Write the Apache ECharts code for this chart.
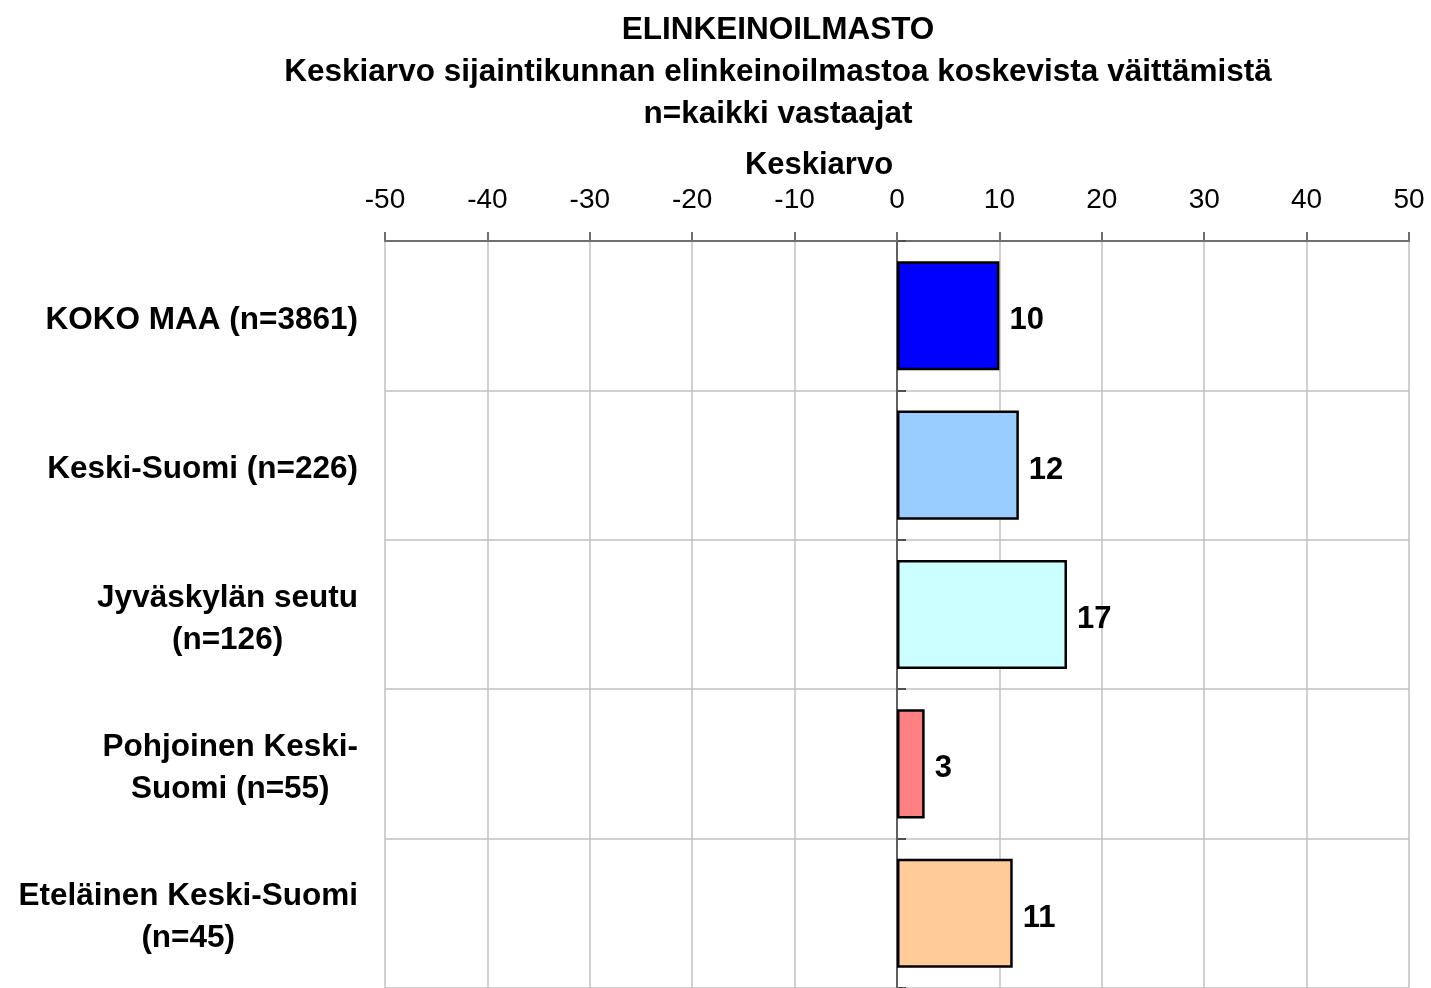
<!DOCTYPE html>
<html>
<head>
<meta charset="utf-8">
<script src="https://cdn.jsdelivr.net/npm/echarts@6/dist/echarts.min.js"></script>
<style>
  html, body { margin: 0; padding: 0; background: #fff; }
  #chart { width: 1431px; height: 988px; }
</style>
</head>
<body>
<div id="chart"></div>
<script>
// data
const categories = [
  'KOKO MAA (n=3861)',
  'Keski-Suomi (n=226)',
  'Jyväskylän seutu\n(n=126)',
  'Pohjoinen Keski-\nSuomi (n=55)',
  'Eteläinen Keski-Suomi\n(n=45)'
];
const meanValues = [10.0, 11.9, 16.6, 2.7, 11.3];
const titleLines = [
  'ELINKEINOILMASTO',
  'Keskiarvo sijaintikunnan elinkeinoilmastoa koskevista väittämistä',
  'n=kaikki vastaajat'
];
const axisName = 'Keskiarvo';

const barColors = ['#0000ff', '#99ccff', '#ccffff', '#ff8080', '#ffcc99'];
const FONT = 'Liberation Sans, Arial, sans-serif';

let chart = echarts.init(document.getElementById('chart'));

let option = {
  animation: false,
  backgroundColor: '#fff',
  textStyle: { fontFamily: FONT },
  graphic: titleLines.map((t, i) => ({
    type: 'text',
    x: 778,
    y: 30 + i * 42,
    style: {
      text: t,
      fill: '#000',
      font: 'bold 31.5px ' + FONT,
      textAlign: 'center',
      textVerticalAlign: 'middle'
    }
  })),
  grid: {
    left: 385,
    right: 22,
    top: 241,
    height: 750
  },
  xAxis: {
    type: 'value',
    position: 'top',
    min: -50,
    max: 50,
    interval: 10,
    name: axisName,
    nameLocation: 'middle',
    nameGap: 60,
    nameTextStyle: {
      color: '#000',
      fontSize: 31,
      fontWeight: 'bold',
      padding: [0, 156, 0, 0]
    },
    axisLine: { show: true, lineStyle: { color: '#707070', width: 2 } },
    axisTick: { show: true, length: 9, lineStyle: { color: '#707070', width: 2 } },
    axisLabel: { color: '#000', fontSize: 28, margin: 27 },
    splitLine: { show: true, lineStyle: { color: '#c0c0c0', width: 1.5 } }
  },
  yAxis: [
    {
      type: 'category',
      inverse: true,
      data: categories,
      axisLine: { show: false, onZero: false },
      axisTick: { show: false },
      splitLine: { show: true, lineStyle: { color: '#c0c0c0', width: 1.5 } },
      axisLabel: {
        margin: 27,
        align: 'right',
        padding: [9, 0, 0, 0],
        formatter: v => v.split('\n').map(l => '{c|' + l + '}').join('\n'),
        rich: {
          c: {
            align: 'center',
            color: '#000',
            fontSize: 31.5,
            fontWeight: 'bold',
            fontFamily: FONT,
            lineHeight: 42
          }
        }
      }
    },
    {
      // zero line with its ticks
      type: 'category',
      inverse: true,
      data: categories,
      axisLine: { show: true, onZero: true, lineStyle: { color: '#606060', width: 2 } },
      axisTick: { show: true, length: 9, lineStyle: { color: '#505050', width: 2 } },
      axisLabel: { show: false },
      splitLine: { show: false }
    }
  ],
  series: [
    {
      type: 'bar',
      yAxisIndex: 0,
      barWidth: '73%',
      data: meanValues.map((v, i) => ({
        value: v,
        itemStyle: { color: barColors[i] }
      })),
      itemStyle: { borderColor: '#000', borderWidth: 2.5 },
      label: {
        show: true,
        position: 'right',
        distance: 10,
        offset: [0, 5],
        color: '#000',
        fontSize: 31,
        fontWeight: 'bold',
        formatter: p => Math.round(p.value)
      }
    }
  ]
};

chart.setOption(option);
</script>
</body>
</html>
